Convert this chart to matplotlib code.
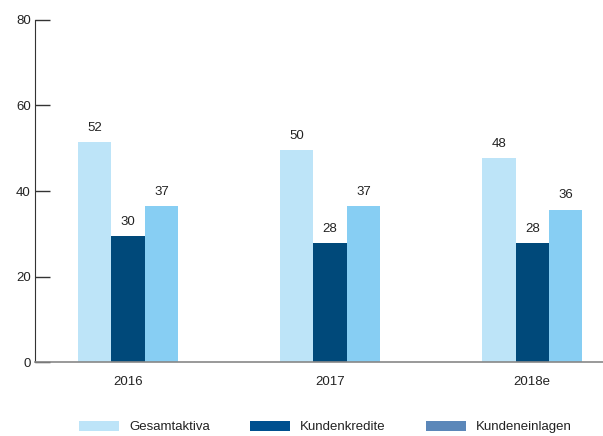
import matplotlib
matplotlib.use("Agg")
import matplotlib.pyplot as plt
from matplotlib.patches import Patch
import numpy as np

plt.rcParams['font.family'] = ['Liberation Sans', 'DejaVu Sans']

years = ["2016", "2017", "2018e"]
series_names = ["Gesamtaktiva", "Kundenkredite", "Kundeneinlagen"]
gesamtaktiva = [51.5, 49.6, 47.7]
kundenkredite = [29.5, 27.8, 27.8]
kundeneinlagen = [36.5, 36.5, 35.6]
labels_gesamtaktiva = ["52", "50", "48"]
labels_kundenkredite = ["30", "28", "28"]
labels_kundeneinlagen = ["37", "37", "36"]
yticks = [0, 20, 40, 60, 80]

bar_colors = ["#bde4f8", "#00497a", "#87cef3"]
legend_colors = ["#bde4f8", "#00508f", "#5b87b9"]

fig = plt.figure(figsize=(6.03, 4.36), dpi=100)
ax = fig.add_axes([35/603, (436-362)/436, (603-35)/603, 342/436])

x = np.arange(len(years))
w = 0.165
data = [gesamtaktiva, kundenkredite, kundeneinlagen]
labs = [labels_gesamtaktiva, labels_kundenkredite, labels_kundeneinlagen]
for i, (vals, lab) in enumerate(zip(data, labs)):
    bars = ax.bar(x + (i - 1) * w, vals, width=w, color=bar_colors[i], linewidth=0)
    ax.bar_label(bars, labels=lab, padding=6, fontsize=9.5, color="#222222")

ax.set_xlim(-0.46, 2.35)
ax.set_ylim(0, 80)
ax.set_yticks(yticks)
ax.set_yticklabels([str(t) for t in yticks], fontsize=9.5, color="#222222")
ax.set_xticks(x)
ax.set_xticklabels(years, fontsize=9.5, color="#222222")
ax.tick_params(axis='x', length=0, pad=10)
ax.tick_params(axis='y', direction='in', length=11, width=1, color="#333333", pad=3)
for s in ["top", "right"]:
    ax.spines[s].set_visible(False)
ax.spines["left"].set_color("#333333")
ax.spines["bottom"].set_color("#888888")
ax.spines["bottom"].set_linewidth(1.2)

legend_x = [79/603, 250/603, 426/603]
for name, col, lx in zip(series_names, legend_colors, legend_x):
    fig.legend([Patch(facecolor=col, edgecolor='none')], [name], loc="center left",
               bbox_to_anchor=(lx, 9/436), frameon=False, fontsize=9.5,
               handlelength=3.0, handleheight=0.85, handletextpad=0.8,
               borderpad=0, borderaxespad=0, labelcolor="#222222")

fig.savefig("out.png", dpi=100)
